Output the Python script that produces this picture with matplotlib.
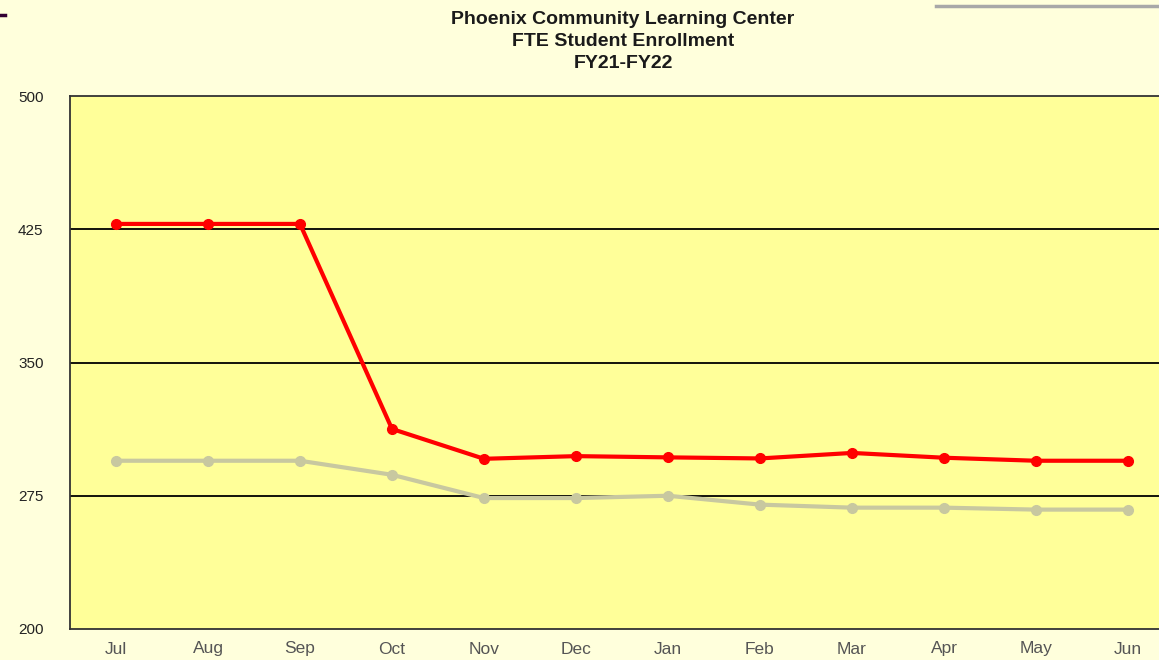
import matplotlib.pyplot as plt
from matplotlib.lines import Line2D

# monthly FTE enrollment
months = ['Jul', 'Aug', 'Sep', 'Oct', 'Nov', 'Dec', 'Jan', 'Feb', 'Mar', 'Apr', 'May', 'Jun']
fy21 = [428.0, 428.0, 428.0, 312.6, 295.8, 297.3, 296.6, 296.0, 299.1, 296.4, 294.7, 294.7]
fy22 = [294.7, 294.7, 294.7, 286.8, 273.7, 273.7, 275.0, 270.0, 268.3, 268.3, 267.2, 267.2]
yticks = [200, 275, 350, 425, 500]

plt.rcParams['font.family'] = ['Liberation Sans', 'DejaVu Sans']

fig = plt.figure(figsize=(11.59, 6.6), dpi=100)
fig.patch.set_facecolor('#ffffdc')

ax = fig.add_axes([70 / 1159, 31 / 660, 1104 / 1159, 533 / 660])
ax.set_facecolor('#ffff99')

x = range(len(months))
ax.plot(x, fy22, color='#c8c8a0', lw=3, marker='o', ms=7, zorder=3)
ax.plot(x, fy21, color='#ff0000', lw=3, marker='o', ms=7, zorder=4)

ax.set_xlim(-0.5, len(months) - 0.5)
ax.set_ylim(200, 500)
ax.set_yticks(yticks)
ax.set_yticklabels([str(v) for v in yticks])
ax.set_xticks(list(x))
ax.set_xticklabels(months)
ax.tick_params(axis='y', length=0, pad=19, labelsize=11, labelcolor='#222222')
ax.tick_params(axis='x', length=0, pad=9, labelsize=12.5, labelcolor='#555555')

for v in yticks[1:-1]:
    ax.axhline(v, color='black', lw=1.3, zorder=2)
for side in ['left', 'bottom', 'top']:
    ax.spines[side].set_color('#333333')
    ax.spines[side].set_linewidth(1.3)
ax.spines['right'].set_visible(False)

title_lines = ['Phoenix Community Learning Center', 'FTE Student Enrollment', 'FY21-FY22']
for line, ypx in zip(title_lines, [19, 41, 63]):
    fig.text(623 / 1159, 1 - ypx / 660, line, ha='center', va='center',
             fontsize=14, fontweight='bold', color='#1a1a1a')

# decorative bits from the slide
fig.add_artist(Line2D([936 / 1159, 1.0], [1 - 6 / 660, 1 - 6 / 660], color='#a8a8a8', lw=2.5))
fig.add_artist(Line2D([0, 5 / 1159], [1 - 15 / 660, 1 - 15 / 660], color='#330033', lw=2.5))

fig.savefig('out.png', dpi=100, facecolor=fig.get_facecolor())
